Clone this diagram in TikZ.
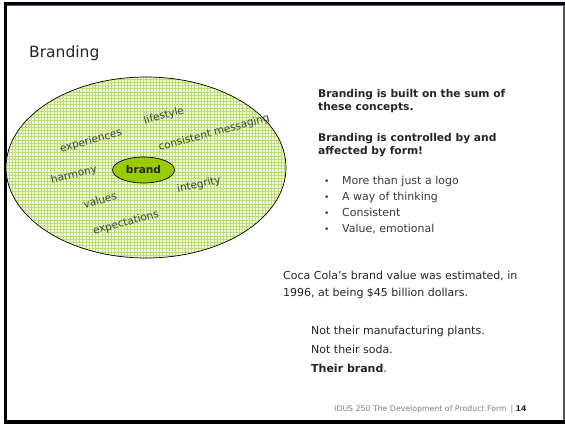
\documentclass[tikz,border=0pt]{standalone}
\usepackage{fontspec}
\setmainfont{DejaVu Sans}
\usetikzlibrary{shapes.geometric}
\definecolor{framegray}{HTML}{555555}
\definecolor{frameblue}{HTML}{3B5F8C}
\definecolor{meshbase}{HTML}{F1F8DF}
\definecolor{meshline}{HTML}{BCDD74}
\definecolor{brandfill}{HTML}{99CC00}
\definecolor{labelgray}{HTML}{404040}
\definecolor{bodyink}{HTML}{262626}
\definecolor{bulletink}{HTML}{3A3A3A}
\definecolor{footgray}{HTML}{808080}
\begin{document}
\begin{tikzpicture}[x=1pt,y=-1pt,
  concept/.style={font=\fontsize{10.5}{12}\selectfont, text=labelgray, rotate=15, inner sep=0},
  lead/.style={font=\fontsize{10.7}{13}\selectfont\bfseries, text=bodyink, anchor=base west, inner sep=0},
  bodytext/.style={font=\fontsize{11}{13}\selectfont, text=bodyink, anchor=base west, inner sep=0},
  bullettext/.style={font=\fontsize{11}{13}\selectfont, text=bulletink, anchor=base west, inner sep=0},
  bulletdot/.style={font=\fontsize{9}{11}\selectfont, text=bulletink, anchor=base west, inner sep=0}]
\useasboundingbox (0,0) rectangle (565,424);
\fill[white] (0,0) rectangle (565,424);

% slide frame
\fill[black] (4,1.8) rectangle (565,4.8);
\fill[frameblue] (4,4.8) rectangle (565,6.3);
\fill[black] (4,1.8) rectangle (7,424);
\fill[black] (4,420) rectangle (565,423.6);
\fill[framegray] (563,6.3) rectangle (564.8,420);

% title
\node[font=\fontsize{15.5}{18}\selectfont, text=bodyink, anchor=base west, inner sep=0] (title) at (29,57.5) {Branding};

% outer concept ellipse with mesh fill
\fill[meshbase] (146,167.5) ellipse [x radius=140, y radius=90.5];
\begin{scope}
  \clip (146,167.5) ellipse [x radius=140, y radius=90.5];
  \foreach \gx in {6,9.2,...,290} {\draw[meshline, line width=0.75pt] (\gx,76) -- (\gx,260);}
  \foreach \gy in {76,79.2,...,260} {\draw[meshline, line width=0.75pt] (5,\gy) -- (290,\gy);}
\end{scope}
\node[draw=black, line width=0.7pt, ellipse, minimum width=280pt, minimum height=181pt, inner sep=0] (field) at (146,167.5) {};

% core
\node[draw=black, line width=0.7pt, fill=brandfill, ellipse, minimum width=62pt, minimum height=26pt, inner sep=0,
      font=\fontsize{10.6}{12}\selectfont\bfseries, text=bodyink] (brand) at (143.5,170) {brand};

% surrounding concepts
\node[concept] (lifestyle) at (164,116) {lifestyle};
\node[concept] (experiences) at (91,141) {experiences};
\node[concept] (messaging) at (214,133) {consistent messaging};
\node[concept, rotate=-2] (harmony) at (74,175) {harmony};
\node[concept, rotate=-3] (integrity) at (199,185) {integrity};
\node[concept] (values) at (100,200) {values};
\node[concept] (expectations) at (126,223) {expectations};

% right column
\node[lead] (lead1) at (318,97) {Branding is built on the sum of};
\node[lead] (lead2) at (318,110) {these concepts.};
\node[lead] (lead3) at (318,141) {Branding is controlled by and};
\node[lead] (lead4) at (318,154) {affected by form!};

\node[bulletdot] (b1) at (324,184) {•};
\node[bullettext] (t1) at (342,184) {More than just a logo};
\node[bulletdot] (b2) at (324,200) {•};
\node[bullettext] (t2) at (342,200) {A way of thinking};
\node[bulletdot] (b3) at (324,216) {•};
\node[bullettext] (t3) at (342,216) {Consistent};
\node[bulletdot] (b4) at (324,232) {•};
\node[bullettext] (t4) at (342,232) {Value, emotional};

\node[bodytext] (coke1) at (283,279) {Coca Cola’s brand value was estimated, in};
\node[bodytext] (coke2) at (283,296) {1996, at being \$45 billion dollars.};

\node[bodytext] (not1) at (311,334) {Not their manufacturing plants.};
\node[bodytext] (not2) at (311,353) {Not their soda.};
\node[bodytext] (theirs) at (311,372) {\textbf{Their brand}.};

% footer
\node[font=\fontsize{7.8}{9}\selectfont, text=footgray, anchor=base west, inner sep=0] (footer) at (334,411)
  {IDUS 250 The Development of Product Form\enspace|\space\textcolor{bodyink}{\bfseries 14}};
\end{tikzpicture}
\end{document}
